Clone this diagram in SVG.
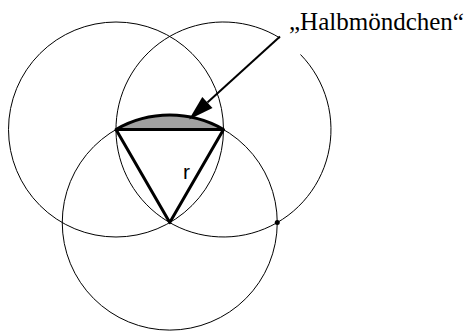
<svg xmlns="http://www.w3.org/2000/svg" width="473" height="334" viewBox="0 0 473 334">
<style>
.circle{fill:none;stroke:#000;stroke-width:1}
.thick{fill:none;stroke:#000;stroke-width:3;stroke-linejoin:round}
.label{font-family:"Liberation Serif","Times New Roman",serif;font-size:25px;fill:#000}
.r{font-family:"Liberation Sans",Arial,sans-serif;font-size:21px;fill:#000}
</style>
<rect width="473" height="334" fill="#fff"/>
<g id="circle-left"><circle class="circle" cx="116" cy="129.5" r="107.5"/></g>
<g id="circle-right"><path class="circle" d="M 300.5 54.5 A 107.5 107.5 0 1 1 280 38.05"/></g>
<g id="circle-bottom"><circle class="circle" cx="169.75" cy="222.6" r="107.5"/></g>
<g id="halbmoendchen"><path d="M 116 129.5 A 107.5 107.5 0 0 1 223.5 129.5 Z" fill="#a0a0a0" stroke="#000" stroke-width="3" stroke-linejoin="round"/></g>
<g id="triangle"><polyline class="thick" points="116,129.5 169.75,222.6 223.5,129.5"/></g>
<g id="point"><circle cx="277.25" cy="222.6" r="2.5" fill="#000"/></g>
<g id="label-r"><text class="r" x="183" y="178.5">r</text></g>
<g id="connectors">
<line x1="280" y1="36.5" x2="207.4" y2="102.6" stroke="#000" stroke-width="2"/>
<polygon points="189,119.5 212.5,108.1 202.3,97.1" fill="#000"/>
</g>
<g id="label"><text class="label" x="289" y="30">„Halbmöndchen“</text></g>
</svg>
